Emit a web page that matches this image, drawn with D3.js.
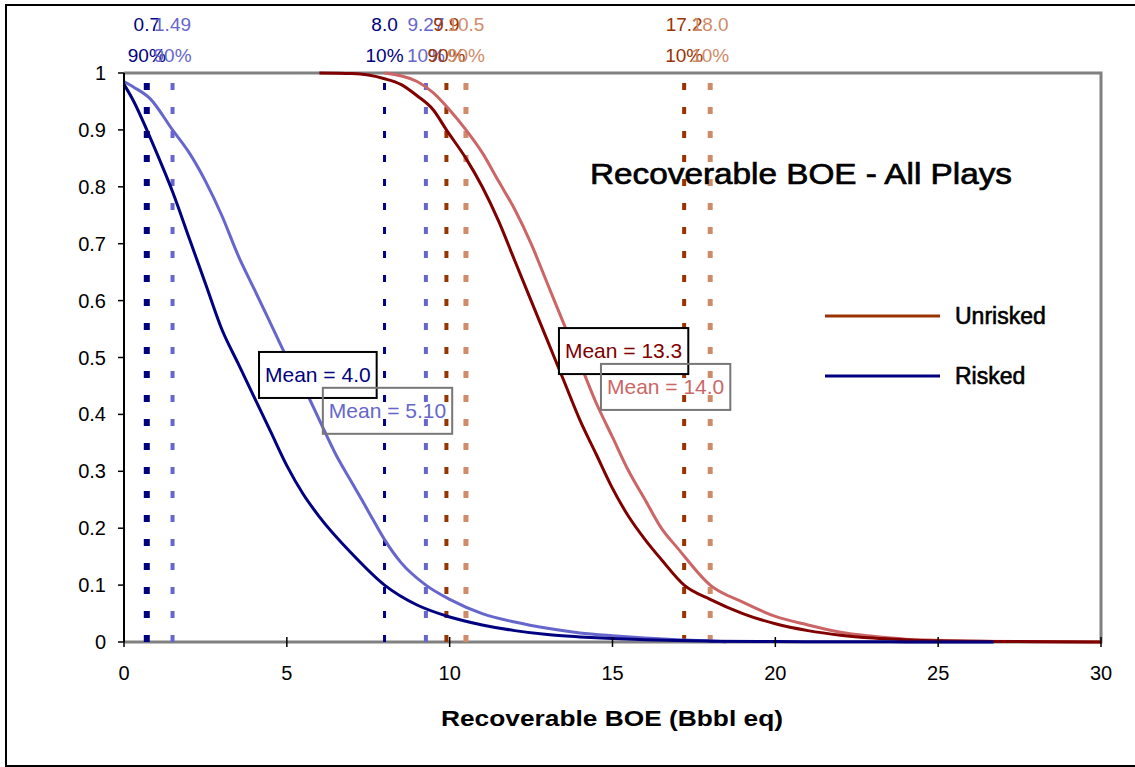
<!DOCTYPE html>
<html>
<head>
<meta charset="utf-8">
<script src="https://cdn.jsdelivr.net/npm/d3@7"></script>
<style>
  body { margin: 0; background: #fff; }
  svg { display: block; font-family: "Liberation Sans", Arial, sans-serif; }
</style>
</head>
<body>
<svg id="chart" width="1135" height="767"></svg>
<script>
// exceedance probability curves
var riskedBoe  = [0, 0.3, 0.7, 1.0, 1.5, 2.0, 2.5, 3.0, 3.5, 4.0, 4.5, 5.0, 5.5, 6.0, 7.0, 8.0, 9.0, 10.0, 11.0, 12.0, 13.0, 14.0, 15.0, 16.0, 17.0, 18.0, 20.0, 22.0, 24.0, 26.7];
var riskedProb = [0.98, 0.95, 0.90, 0.86, 0.79, 0.71, 0.63, 0.55, 0.49, 0.43, 0.37, 0.31, 0.26, 0.22, 0.155, 0.10, 0.065, 0.044, 0.03, 0.02, 0.013, 0.009, 0.006, 0.004, 0.0025, 0.0015, 0.0008, 0.0004, 0.0002, 0];

var risked2Boe  = [0, 0.3, 0.8, 1.49, 2.0, 2.5, 3.0, 3.5, 4.0, 4.5, 5.0, 5.5, 6.0, 6.5, 7.0, 7.5, 8.0, 8.5, 9.27, 10, 11, 12, 13, 14, 15, 16, 17, 18, 18.5];
var risked2Prob = [0.985, 0.975, 0.955, 0.90, 0.86, 0.81, 0.75, 0.68, 0.62, 0.56, 0.50, 0.45, 0.39, 0.33, 0.28, 0.23, 0.18, 0.14, 0.10, 0.075, 0.05, 0.035, 0.024, 0.016, 0.011, 0.007, 0.004, 0.002, 0];

var unriskedBoe  = [6.0, 7.0, 8.0, 8.5, 9.0, 9.5, 9.9, 10.5, 11.0, 11.5, 12.0, 12.5, 13.0, 13.5, 14.0, 14.5, 15.0, 15.5, 16.0, 16.5, 17.2, 18, 19, 20, 21, 22, 23, 24, 25, 26.7, 30];
var unriskedProb = [1.0, 0.999, 0.99, 0.98, 0.96, 0.935, 0.90, 0.85, 0.80, 0.74, 0.67, 0.60, 0.53, 0.46, 0.39, 0.33, 0.27, 0.22, 0.18, 0.145, 0.10, 0.075, 0.05, 0.032, 0.02, 0.012, 0.007, 0.004, 0.002, 0.001, 0];

var unrisked2Boe  = [8.0, 9.0, 9.5, 10.0, 10.5, 11.0, 11.5, 12.0, 12.5, 13.0, 13.5, 14.0, 14.5, 15.0, 15.5, 16.0, 16.5, 17.0, 18.0, 19, 20, 21, 22, 23, 24, 25, 26, 28, 30];
var unrisked2Prob = [1.0, 0.985, 0.965, 0.935, 0.90, 0.86, 0.81, 0.76, 0.70, 0.63, 0.56, 0.49, 0.42, 0.36, 0.30, 0.25, 0.20, 0.165, 0.10, 0.07, 0.045, 0.03, 0.017, 0.01, 0.005, 0.003, 0.0015, 0.0005, 0];

// percentile markers (90% / 10%)
var pctValues = [0.7, 8.0, 1.49, 9.27, 9.9, 17.2, 10.5, 18.0];
var pctLabels = ["0.7", "8.0", "1.49", "9.27", "9.9", "17.2", "10.5", "18.0"];
var pctNames  = ["90%", "10%", "90%", "10%", "90%", "10%", "90%", "10%"];

var meanLabels = ["Mean = 4.0", "Mean = 5.10", "Mean = 13.3", "Mean = 14.0"];

var xTicks = [0, 5, 10, 15, 20, 25, 30];
var yTicks = [0, 0.1, 0.2, 0.3, 0.4, 0.5, 0.6, 0.7, 0.8, 0.9, 1];

var navy = "#000080", lblue = "#6666cc", dred = "#800000", pink = "#cc6666",
    brown = "#993300", lorange = "#d08c68";

var svg = d3.select("#chart");

// outer frame
svg.append("rect").attr("x", 6).attr("y", 5).attr("width", 1140).attr("height", 761)
    .attr("fill", "#fff").attr("stroke", "#000").attr("stroke-width", 2);

var x = d3.scaleLinear().domain([0, 30]).range([124, 1101]);
var y = d3.scaleLinear().domain([0, 1]).range([642, 73]);

// plot border (grey top / right / bottom)
svg.append("path")
    .attr("d", "M" + x(0) + "," + y(1) + "H" + x(30) + "V" + y(0) + "H" + x(0))
    .attr("fill", "none").attr("stroke", "#808080").attr("stroke-width", 3);

// percentile dashed lines
var markerColors = [navy, navy, lblue, lblue, brown, brown, lorange, lorange];
var markerWidths = [6, 3, 4, 4, 4, 4, 5, 5];
pctValues.forEach(function (v, i) {
    svg.append("line")
        .attr("x1", x(v)).attr("x2", x(v))
        .attr("y1", y(0)).attr("y2", y(1))
        .attr("stroke", markerColors[i]).attr("stroke-width", markerWidths[i])
        .attr("stroke-dasharray", "7,17");
    svg.append("text")
        .attr("x", x(v)).attr("y", 31)
        .attr("text-anchor", "middle").attr("font-size", 19)
        .attr("fill", markerColors[i]).text(pctLabels[i]);
    svg.append("text")
        .attr("x", x(v)).attr("y", 62)
        .attr("text-anchor", "middle").attr("font-size", 19)
        .attr("fill", markerColors[i]).text(pctNames[i]);
});

// curves
var line = d3.line()
    .x(function (d) { return x(d[0]); })
    .y(function (d) { return y(d[1]); })
    .curve(d3.curveMonotoneX);

var series = [
    { boe: unrisked2Boe, prob: unrisked2Prob, color: pink },
    { boe: risked2Boe, prob: risked2Prob, color: lblue },
    { boe: unriskedBoe, prob: unriskedProb, color: dred },
    { boe: riskedBoe, prob: riskedProb, color: navy }
];
series.forEach(function (s) {
    svg.append("path")
        .datum(d3.zip(s.boe, s.prob))
        .attr("d", line)
        .attr("fill", "none")
        .attr("stroke", s.color)
        .attr("stroke-width", 3);
});

// mean boxes: [x, p] of text start / baseline
var meanPos = [[4.33, 0.457], [6.29, 0.394], [13.54, 0.499], [14.83, 0.436]];
var meanColors = [navy, lblue, dred, pink];
var meanFilled = [true, false, true, false];
meanLabels.forEach(function (t, i) {
    var g = svg.append("g");
    var box = g.append("rect");
    var tx = g.append("text")
        .attr("x", x(meanPos[i][0])).attr("y", y(meanPos[i][1]))
        .attr("font-size", 21).attr("fill", meanColors[i]).text(t);
    var w = tx.node().getComputedTextLength();
    box.attr("x", x(meanPos[i][0]) - 6).attr("y", y(meanPos[i][1]) - 30)
        .attr("width", w + 12).attr("height", 46)
        .attr("fill", meanFilled[i] ? "#fff" : "none")
        .attr("stroke", meanFilled[i] ? "#000" : "#777")
        .attr("stroke-width", 2);
});

// axes
var xAxis = svg.append("g");
xAxis.selectAll("line").data(xTicks).enter().append("line")
    .attr("x1", function (d) { return x(d); }).attr("x2", function (d) { return x(d); })
    .attr("y1", y(0) - 5).attr("y2", y(0) + 5)
    .attr("stroke", "#000").attr("stroke-width", 1.5);
xAxis.selectAll("text").data(xTicks).enter().append("text")
    .attr("x", function (d) { return x(d); }).attr("y", y(0) + 38)
    .attr("text-anchor", "middle").attr("font-size", 20)
    .text(function (d) { return d; });

var yAxis = svg.append("g");
yAxis.append("line").attr("x1", x(0)).attr("x2", x(0)).attr("y1", y(0)).attr("y2", y(1))
    .attr("stroke", "#000").attr("stroke-width", 2);
yAxis.selectAll("line.tick").data(yTicks).enter().append("line").attr("class", "tick")
    .attr("x1", x(0) - 6).attr("x2", x(0))
    .attr("y1", function (d) { return y(d); }).attr("y2", function (d) { return y(d); })
    .attr("stroke", "#000").attr("stroke-width", 1.5);
yAxis.selectAll("text").data(yTicks).enter().append("text")
    .attr("x", x(0) - 18).attr("y", function (d) { return y(d) + 7; })
    .attr("text-anchor", "end").attr("font-size", 20)
    .text(function (d) { return d3.format("~g")(d); });

// titles
svg.append("text").attr("x", 590).attr("y", 184)
    .attr("font-size", 30).attr("textLength", 422).attr("lengthAdjust", "spacingAndGlyphs")
    .attr("stroke", "#000").attr("stroke-width", 0.7)
    .text("Recoverable BOE - All Plays");
svg.append("text").attr("x", 441).attr("y", 726)
    .attr("font-size", 22).attr("font-weight", "bold")
    .attr("textLength", 342).attr("lengthAdjust", "spacingAndGlyphs")
    .text("Recoverable BOE (Bbbl eq)");

// legend
var legend = [["Unrisked", brown], ["Risked", navy]];
legend.forEach(function (l, i) {
    var ly = 316 + i * 60;
    svg.append("line").attr("x1", 825).attr("x2", 940).attr("y1", ly).attr("y2", ly)
        .attr("stroke", l[1]).attr("stroke-width", 3);
    svg.append("text").attr("x", 955).attr("y", ly + 8)
        .attr("font-size", 23).attr("stroke", "#000").attr("stroke-width", 0.6)
        .text(l[0]);
});
</script>
</body>
</html>
